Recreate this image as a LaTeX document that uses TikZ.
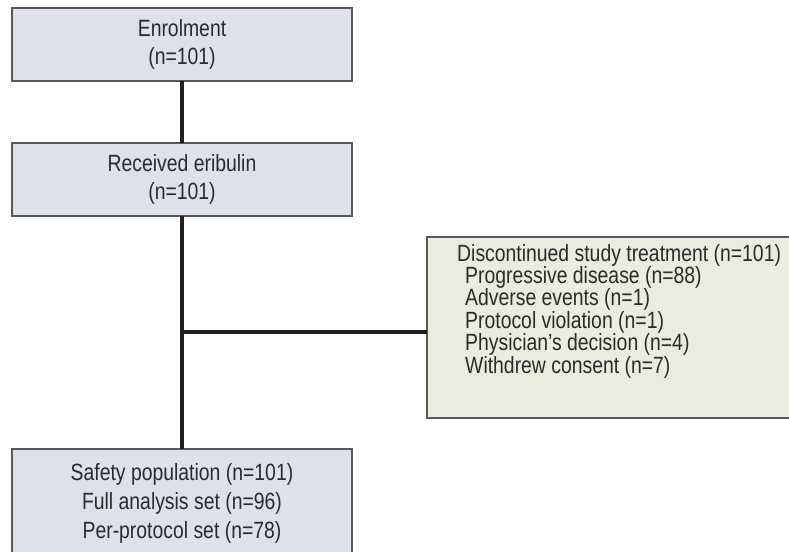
\documentclass[tikz,border=0pt]{standalone}
\usepackage{fontspec}
\setmainfont{Liberation Sans}[FakeStretch=0.825]
\definecolor{boxblue}{HTML}{DEE0EA}
\definecolor{boxgreen}{HTML}{E9ECDF}
\definecolor{boxline}{HTML}{585858}
\definecolor{txt}{HTML}{2B2B2B}
\definecolor{conn}{HTML}{231F20}
\tikzset{
  bluebox/.style={draw=boxline, line width=1.4pt, fill=boxblue, minimum width=340pt, minimum height=73pt, inner sep=0pt, outer sep=0pt, align=center, text=txt, font=\fontsize{23.5}{28}\selectfont},
  greenbox/.style={draw=boxline, line width=1.4pt, fill=boxgreen, inner sep=0pt, outer sep=0pt},
  boxtext/.style={inner sep=0pt, text=txt, font=\fontsize{23.5}{22.4}\selectfont},
  connector/.style={draw=conn, line width=3.5pt}
}
\begin{document}
\begin{tikzpicture}[x=1pt,y=-1pt]
\useasboundingbox (0,0) rectangle (789,551);
\node[bluebox] (enrol) at (182,44.5) {Enrolment\\(n=101)};
\node[bluebox] (recv) at (182,179.5) {Received eribulin\\(n=101)};
\node[bluebox, minimum height=120pt, anchor=north] (safety) at (182,449) {};
\node[boxtext, align=center, font=\fontsize{23.5}{29}\selectfont] (safetytext) at (182,503) {Safety population (n=101)\\Full analysis set (n=96)\\Per-protocol set (n=78)};
\node[greenbox, minimum width=380pt, minimum height=181pt, anchor=north west] (disc) at (427,237) {};
\node[boxtext, align=left, anchor=west] (disctext) at (457,311) {Discontinued study treatment (n=101)\\
\hspace*{8pt}Progressive disease (n=88)\\
\hspace*{8pt}Adverse events (n=1)\\
\hspace*{8pt}Protocol violation (n=1)\\
\hspace*{8pt}Physician{\char"0027}s decision (n=4)\\
\hspace*{8pt}Withdrew consent (n=7)};
\coordinate (junction) at (182,332);
\draw[connector] (enrol.south) -- (recv.north);
\draw[connector] (recv.south) -- (safety.north);
\draw[connector] (junction) -- (junction -| disc.west);
\end{tikzpicture}
\end{document}
